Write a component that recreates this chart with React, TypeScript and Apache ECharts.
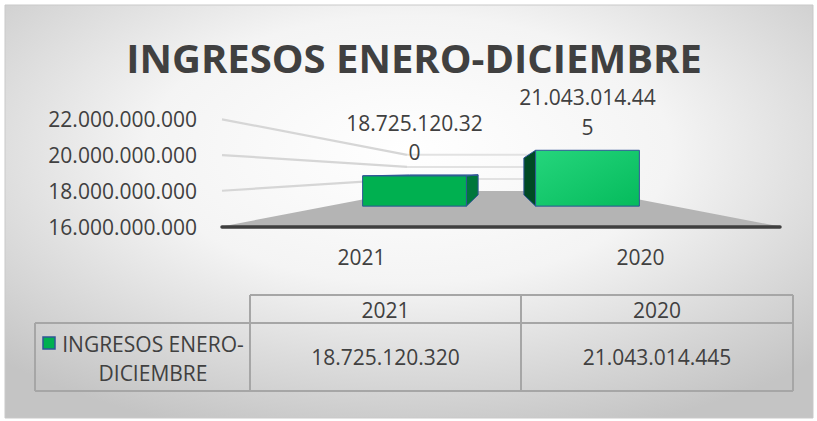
import React, { useEffect, useRef } from "react";
import * as echarts from "echarts";

// ---- data ----
const categories = ["2021", "2020"];
const ingresos = [18725120320, 21043014445];
const seriesName = "INGRESOS ENERO-DICIEMBRE";
const chartTitle = "INGRESOS ENERO-DICIEMBRE";
const yTicks = [16000000000, 18000000000, 20000000000, 22000000000];

// ---- style constants ----
const FONT = "'Open Sans', sans-serif";
const TXT = "#404040";
const D_FRONT = 0.38; // depth of bar front face (perspective fraction toward vanishing point)
const D_BACK = 0.59; // depth of bar back face
const D_WALL = 0.663; // depth of back wall
const BAR_RATIO = 0.6;
const LABEL_WRAP = 13;
const FRONT_FILLS: any[] = [
  "#00b050",
  {
    type: "linear", x: 0, y: 0, x2: 1, y2: 1,
    colorStops: [{ offset: 0, color: "#25d57c" }, { offset: 1, color: "#05bb5c" }],
  },
];
const SIDE_FILLS = ["#00773b", "#004a24"];
const TOP_FILLS = ["#33c070", "#40d888"];
const EDGE = "#2f5597";

const fmt = (n: number) => String(n).replace(/\B(?=(\d{3})+(?!\d))/g, ".");

const Y_MIN = yTicks[0];
const Y_MAX = yTicks[yTicks.length - 1];
const Y_STEP = yTicks[1] - yTicks[0];

function proj(p: number[], d: number, vp: number[]) {
  return [p[0] + d * (vp[0] - p[0]), p[1] + d * (vp[1] - p[1])];
}

export default function App() {
  const ref = useRef<HTMLDivElement>(null);
  useEffect(() => {
    if (!ref.current) return;
    const chart = echarts.init(ref.current, undefined, { renderer: "svg" });

    // table layout
    const tX = [35, 250, 521, 793];
    const tY = [295, 323, 391];
    const tableLine = { stroke: "#a6a6a6", lineWidth: 2 };
    const tableEls: any[] = [
      { type: "line", shape: { x1: tX[1], y1: tY[0], x2: tX[3], y2: tY[0] }, style: tableLine },
      { type: "line", shape: { x1: tX[0], y1: tY[1], x2: tX[3], y2: tY[1] }, style: tableLine },
      { type: "line", shape: { x1: tX[0], y1: tY[2], x2: tX[3], y2: tY[2] }, style: tableLine },
      { type: "line", shape: { x1: tX[0], y1: tY[1], x2: tX[0], y2: tY[2] }, style: tableLine },
      { type: "line", shape: { x1: tX[1], y1: tY[0], x2: tX[1], y2: tY[2] }, style: tableLine },
      { type: "line", shape: { x1: tX[2], y1: tY[0], x2: tX[2], y2: tY[2] }, style: tableLine },
      { type: "line", shape: { x1: tX[3], y1: tY[0], x2: tX[3], y2: tY[2] }, style: tableLine },
      {
        type: "rect", shape: { x: 43, y: 337, width: 12, height: 12 },
        style: { fill: "#00b050", stroke: EDGE, lineWidth: 1.5 },
      },
      {
        type: "text", x: 153, y: (tY[1] + tY[2]) / 2 + 1,
        style: {
          text: seriesName.replace("-", "-\n"), fill: TXT, fontSize: 21, fontFamily: FONT,
          align: "center", verticalAlign: "middle", lineHeight: 29,
        },
      },
    ];
    categories.forEach((c, i) => {
      const cx = (tX[i + 1] + tX[i + 2]) / 2;
      tableEls.push({
        type: "text", x: cx, y: (tY[0] + tY[1]) / 2 + 1,
        style: { text: c, fill: TXT, fontSize: 21, fontFamily: FONT, align: "center", verticalAlign: "middle" },
      });
      tableEls.push({
        type: "text", x: cx, y: (tY[1] + tY[2]) / 2,
        style: { text: fmt(ingresos[i]), fill: TXT, fontSize: 21, fontFamily: FONT, align: "center", verticalAlign: "middle" },
      });
    });

    const option: any = {
      animation: false,
      backgroundColor: "#ffffff",
      graphic: [
        {
          type: "rect", z: -10, shape: { x: 5, y: 5, width: 808, height: 413 },
          style: {
            fill: {
              type: "radial", x: 0.5, y: 0.35, r: 0.72,
              colorStops: [
                { offset: 0, color: "#ffffff" },
                { offset: 0.45, color: "#f4f4f4" },
                { offset: 1, color: "#c4c4c4" },
              ],
            },
            stroke: "#c9c9c9", lineWidth: 1,
          },
        },
        {
          type: "text", x: 414, y: 57,
          style: {
            text: chartTitle, fill: TXT, fontSize: 40, fontWeight: "bold", fontFamily: FONT,
            align: "center", verticalAlign: "middle",
          },
        },
        ...tableEls,
      ],
      grid: { left: 222, top: 119.3, width: 558, height: 107.2, containLabel: false },
      xAxis: {
        type: "category",
        data: categories,
        axisLine: { show: true, lineStyle: { color: "#3f3f3f", width: 3.5, cap: "round" } },
        axisTick: { show: false },
        axisLabel: { color: TXT, fontSize: 21, fontFamily: FONT, margin: 20 },
        splitLine: { show: false },
        z: 5,
      },
      yAxis: {
        type: "value",
        min: Y_MIN,
        max: Y_MAX,
        interval: Y_STEP,
        axisLine: { show: false },
        axisTick: { show: false },
        splitLine: { show: false },
        axisLabel: { color: TXT, fontSize: 21, fontFamily: FONT, margin: 25, formatter: (v: number) => fmt(v) },
      },
      series: [
        {
          type: "custom",
          name: "backdrop",
          z: 1,
          silent: true,
          encode: { x: 0, y: 1 },
          data: yTicks.map((v) => [0, v]),
          renderItem: (params: any, api: any) => {
            const cs = params.coordSys;
            const v = api.value(1);
            const y = api.coord([0, v])[1];
            const vp = [cs.x + cs.width / 2, cs.y + cs.height / 2];
            const L = cs.x;
            const R = cs.x + cs.width;
            const bl = proj([L, y], D_WALL, vp);
            const br = proj([R, y], D_WALL, vp);
            if (v === Y_MIN) {
              return {
                type: "polygon",
                shape: { points: [[L, y], [R, y], br, bl] },
                style: { fill: "#b4b4b4" },
              };
            }
            return {
              type: "group",
              children: [
                { type: "line", shape: { x1: L, y1: y, x2: bl[0], y2: bl[1] }, style: { stroke: "#d6d6d6", lineWidth: 2.2 } },
                { type: "line", shape: { x1: bl[0], y1: bl[1], x2: br[0], y2: br[1] }, style: { stroke: "#e2e2e2", lineWidth: 2 } },
              ],
            };
          },
        },
        {
          type: "custom",
          name: seriesName,
          z: 3,
          encode: { x: 0, y: 1 },
          data: ingresos.map((v, i) => [i, v]),
          renderItem: (params: any, api: any) => {
            const cs = params.coordSys;
            const i = api.value(0);
            const v = api.value(1);
            const vp = [cs.x + cs.width / 2, cs.y + cs.height / 2];
            const base = api.coord([i, Y_MIN]);
            const top = api.coord([i, v]);
            const bw = api.size([1, 0])[0] * BAR_RATIO;
            const xl = base[0] - bw / 2;
            const xr = base[0] + bw / 2;
            const fLb = proj([xl, base[1]], D_FRONT, vp);
            const fRb = proj([xr, base[1]], D_FRONT, vp);
            const fLt = proj([xl, top[1]], D_FRONT, vp);
            const fRt = proj([xr, top[1]], D_FRONT, vp);
            const bLb = proj([xl, base[1]], D_BACK, vp);
            const bRb = proj([xr, base[1]], D_BACK, vp);
            const bLt = proj([xl, top[1]], D_BACK, vp);
            const bRt = proj([xr, top[1]], D_BACK, vp);
            const idx = params.dataIndex;
            const children: any[] = [];
            const edge = { stroke: EDGE, lineWidth: 1, lineJoin: "round" };
            if (base[0] < vp[0]) {
              children.push({ type: "polygon", shape: { points: [fRb, fRt, bRt, bRb] }, style: { fill: SIDE_FILLS[idx], ...edge } });
            } else {
              children.push({ type: "polygon", shape: { points: [fLb, fLt, bLt, bLb] }, style: { fill: SIDE_FILLS[idx], ...edge } });
            }
            if (top[1] > vp[1]) {
              children.push({ type: "polygon", shape: { points: [fLt, fRt, bRt, bLt] }, style: { fill: TOP_FILLS[idx], ...edge } });
            }
            children.push({
              type: "polygon",
              shape: { points: [fLb, fRb, fRt, fLt] },
              style: { fill: FRONT_FILLS[idx], ...edge },
            });
            const s = fmt(v);
            const lbl = s.length > LABEL_WRAP ? s.slice(0, LABEL_WRAP) + "\n" + s.slice(LABEL_WRAP) : s;
            children.push({
              type: "text",
              x: (fLt[0] + fRt[0]) / 2,
              y: fLt[1] - 9,
              style: {
                text: lbl, fill: TXT, fontSize: 21, fontFamily: FONT,
                align: "center", verticalAlign: "bottom", lineHeight: 29.5,
              },
            });
            return { type: "group", children };
          },
        },
      ],
    };
    chart.setOption(option);
    return () => chart.dispose();
  }, []);
  return (
    <div
      ref={ref}
      style={{ position: "fixed", left: 0, top: 0, width: 817, height: 421, background: "#fff" }}
    />
  );
}
